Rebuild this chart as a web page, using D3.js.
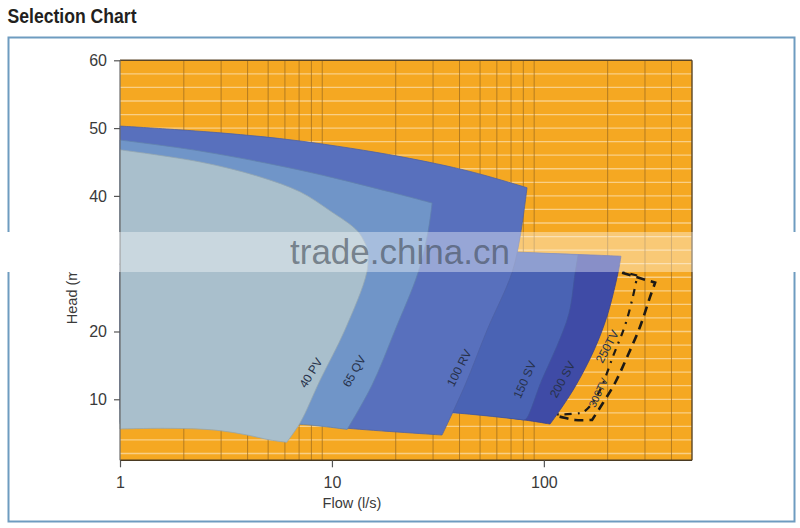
<!DOCTYPE html>
<html><head><meta charset="utf-8">
<script src="https://cdn.jsdelivr.net/npm/d3@7/dist/d3.min.js"></script>
<style>body{margin:0;background:#fff}svg{display:block}</style>
</head><body>
<svg id="c" width="800" height="528"></svg>
<script>
// ---------- data (flow in l/s, head in m) ----------
const xTicks = [1, 10, 100];
const yTicks = [10, 20, 30, 40, 50, 60];
const xGrid = [2,3,4,5,6,7,8,9,20,30,40,50,60,70,80,90,200,300,400];
const yGrid = [2,4,6,8,10,12,14,16,18,20,22,24,26,28,30,32,34,36,38,40,42,44,46,48,50,52,54,56,58];

// each pump range: top edge (left→right), right edge (top→bottom), bottom edge (right→left)
const pv40Top    = [[1,46.8],[2.39,45.0],[4.58,42.8],[7.07,40.6],[9.8,37.8],[13.3,34.7],[14.8,32.0]];
const pv40Right  = [[14.8,32.0],[14.6,28.7],[11.5,20.2],[8.8,12.85],[7.07,6.5],[6.12,3.66]];
const pv40Bottom = [[6.12,3.66],[5.1,4.0],[3.96,4.75],[3.0,5.35],[2.4,5.6],[1.6,5.72],[1,5.62]];

const qv65Top    = [[1,48.24],[2.39,46.62],[7.07,43.8],[18.8,40.58],[29.7,38.95]];
const qv65Right  = [[29.7,38.95],[28.4,34.68],[25.5,28.7],[19.85,20.2],[15.46,12.1],[11.8,5.55]];
const qv65Bottom = [[11.8,5.55],[7.07,6.31],[3,6.4],[1,6.35]];

const rv100Top    = [[1,50.3],[2.97,49.3],[7.07,48.1],[20.96,45.8],[44.9,43.6],[83.3,41.2]];
const rv100Right  = [[83.3,41.2],[77.2,33.94],[70.8,28.7],[53.95,20.2],[42.5,12.1],[33.08,4.73]];
const rv100Bottom = [[33.08,4.73],[11.9,5.72],[7.07,6.5],[1,6.6]];

const sv150Top    = [[1,32.3],[60,31.8],[145,31.3]];
const sv150Right  = [[145,31.3],[140.4,28.6],[131.5,22.7],[115,17.76],[97.8,12.85],[83,7.2],[80.6,6.95]];
const sv150Bottom = [[80.6,6.95],[38.1,7.98],[20,8.3],[1,8.5]];

const sv200Top    = [[1,32.0],[100,31.5],[231,31.1]];
const sv200Right  = [[231,31.1],[224,28.7],[198.8,22.29],[172.6,17.27],[141.9,12.1],[121.9,8.86],[107,6.35]];
const sv200Bottom = [[107,6.35],[80.6,6.95],[38,8.1],[1,8.6]];

// future ranges (dashed outlines)
const tv300Top    = [[200,29.3],[335,27.2]];
const tv300Right  = [[335,27.2],[317,25.1],[284,20.66],[247,16.24],[216.6,12.4],[190,9.45],[168.8,6.95]];
const tv300Bottom = [[168.8,6.95],[140.4,6.95],[114.4,7.54],[95.8,7.83]];
const tv250Top    = [[205,29.2],[276,28.26]];
const tv250Right  = [[276,28.26],[263,25.1],[241.6,20.9],[213,16.5],[184.2,11.36],[165,9.0],[152.5,7.98]];
const tv250Bottom = [[152.5,7.98],[119,7.76],[95.8,7.98]];

const rangeNames  = ["200 SV","150 SV","100 RV","65 QV","40 PV"];
const labelNames  = ["40 PV","65 QV","100 RV","150 SV","200 SV","250TV","300TV"];
const labelFlow   = [8.03, 12.85, 40.2, 82.1, 123.6, 200.9, 182.2];
const labelHead   = [13.83, 14.07, 14.57, 12.85, 12.85, 17.71, 10.93];

// ---------- styles ----------
const ranges = {
  "200 SV": {parts:[sv200Top,sv200Right,sv200Bottom], fill:"#3f4ba6"},
  "150 SV": {parts:[sv150Top,sv150Right,sv150Bottom], fill:"#4a63b4"},
  "100 RV": {parts:[rv100Top,rv100Right,rv100Bottom], fill:"#5870bd"},
  "65 QV":  {parts:[qv65Top,qv65Right,qv65Bottom],   fill:"#7095c8"},
  "40 PV":  {parts:[pv40Top,pv40Right,pv40Bottom],   fill:"#a9bfcc"}
};
const labelAngles = [-58,-60,-63,-66,-61,-62,-65];

const svg = d3.select("#c");
const W = 800, H = 528;
const x = d3.scaleLog().domain([1,500]).range([120,692]);
const y = d3.scaleLinear().domain([1,60]).range([460.3,60.3]);
const FONT = "'Liberation Sans', Arial, Helvetica, sans-serif";

svg.append("rect").attr("width",W).attr("height",H).attr("fill","#fff");

// outer frame
svg.append("rect").attr("x",8.5).attr("y",37.5).attr("width",786).attr("height",484)
  .attr("fill","none").attr("stroke","#6e9cc0").attr("stroke-width",2);

// title
svg.append("text").attr("x",7.5).attr("y",22.5)
  .attr("font-family",FONT)
  .attr("font-weight","bold").attr("font-size",21).attr("fill","#231f20")
  .attr("textLength",129).attr("lengthAdjust","spacingAndGlyphs")
  .text("Selection Chart");

// plot background
const plot = svg.append("g");
plot.append("rect").attr("x",x(1)).attr("y",y(60)).attr("width",x(500)-x(1)).attr("height",y(1)-y(60))
  .attr("fill","#f5a822");

// horizontal grid (light)
plot.selectAll("line.hg").data(yGrid).join("line").attr("class","hg")
  .attr("x1",x(1)).attr("x2",x(500)).attr("y1",d=>y(d)).attr("y2",d=>y(d))
  .attr("stroke","#f9cf86").attr("stroke-width",1.3);

// vertical grid (dark)
plot.selectAll("line.vg").data(xGrid).join("line").attr("class","vg")
  .attr("x1",d=>x(d)).attr("x2",d=>x(d)).attr("y1",y(60)).attr("y2",y(1))
  .attr("stroke","#9a6a1e").attr("stroke-width",0.9).attr("stroke-opacity",0.8);

const edge = d3.line().x(d=>x(d[0])).y(d=>y(d[1])).curve(d3.curveCatmullRom.alpha(0.5));
function joinEdges(parts, close){
  let s = "";
  parts.forEach((p,i)=>{
    let d = edge(p);
    if(i>0) d = "L" + d.slice(1);
    s += d;
  });
  return close ? s + "Z" : s;
}

// dashed future ranges
plot.append("path").attr("d",joinEdges([tv300Top,tv300Right,tv300Bottom],false))
  .attr("fill","none").attr("stroke","#1d1a16").attr("stroke-width",2.6).attr("stroke-dasharray","9,6");
plot.append("path").attr("d",joinEdges([tv250Top,tv250Right,tv250Bottom],false))
  .attr("fill","none").attr("stroke","#1d1a16").attr("stroke-width",2.2).attr("stroke-dasharray","7,6,2,6");

// pump ranges
rangeNames.forEach(n=>{
  const r = ranges[n];
  plot.append("path").attr("d",joinEdges(r.parts,true))
    .attr("fill",r.fill).attr("stroke",d3.color(r.fill).darker(0.4)).attr("stroke-width",0.8);
});

// labels
labelNames.forEach((n,i)=>{
  const px = x(labelFlow[i]), py = y(labelHead[i]);
  plot.append("text").attr("transform",`translate(${px},${py}) rotate(${labelAngles[i]})`)
    .attr("text-anchor","middle").attr("dominant-baseline","middle")
    .attr("font-family",FONT).attr("font-size", n==="300TV"?10.5:12)
    .attr("fill","#27314a").text(n);
});

// plot frame
plot.append("line").attr("x1",x(1)).attr("x2",x(500)).attr("y1",y(60)).attr("y2",y(60))
  .attr("stroke","#5a4526").attr("stroke-width",1.5);
plot.append("line").attr("x1",x(1)).attr("x2",x(500)).attr("y1",y(1)).attr("y2",y(1))
  .attr("stroke","#4a3a22").attr("stroke-width",1.6);
plot.append("line").attr("x1",x(500)).attr("x2",x(500)).attr("y1",y(60)).attr("y2",y(1))
  .attr("stroke","#5a4526").attr("stroke-width",1.4);
plot.append("line").attr("x1",x(1)).attr("x2",x(1)).attr("y1",y(60)).attr("y2",y(1))
  .attr("stroke","#6d6d6d").attr("stroke-width",1.2);

// axes
const yAxis = svg.append("g").attr("transform",`translate(${x(1)},0)`)
  .call(d3.axisLeft(y).tickValues(yTicks).tickSize(6).tickPadding(7).tickFormat(d3.format("d")));
const xAxis = svg.append("g").attr("transform",`translate(0,${y(1)})`)
  .call(d3.axisBottom(x).tickValues(xTicks).tickSize(7).tickPadding(9).tickFormat(d3.format("d")));
[yAxis,xAxis].forEach(a=>{
  a.select(".domain").remove();
  a.selectAll("line").attr("stroke","#555").attr("stroke-width",1.2);
  a.selectAll("text").attr("font-family",FONT).attr("font-size",16).attr("fill","#3a3a3a");
});

// axis titles
svg.append("text").attr("transform","translate(77,294) rotate(-90)")
  .attr("text-anchor","middle").attr("font-family",FONT).attr("font-size",14.5).attr("fill","#3a3a3a")
  .text("Head (m)");
svg.append("text").attr("x",352).attr("y",508).attr("text-anchor","middle")
  .attr("font-family",FONT).attr("font-size",14.5).attr("fill","#3a3a3a")
  .text("Flow (l/s)");

// watermark band (drawn on top)
const band = svg.append("g");
band.append("rect").attr("x",0).attr("y",232).attr("width",119.5).attr("height",40)
  .attr("fill","#ffffff").attr("fill-opacity",1);
band.append("rect").attr("x",119.5).attr("y",232).attr("width",574).attr("height",40)
  .attr("fill","#ffffff").attr("fill-opacity",0.38);
band.append("rect").attr("x",693.5).attr("y",232).attr("width",106.5).attr("height",40)
  .attr("fill","#ffffff").attr("fill-opacity",1);
band.append("text").attr("x",290).attr("y",263.5).attr("font-family",FONT).attr("font-size",35)
  .attr("fill","#404a56").attr("fill-opacity",0.62).text("trade.china.cn");
</script>
</body></html>
